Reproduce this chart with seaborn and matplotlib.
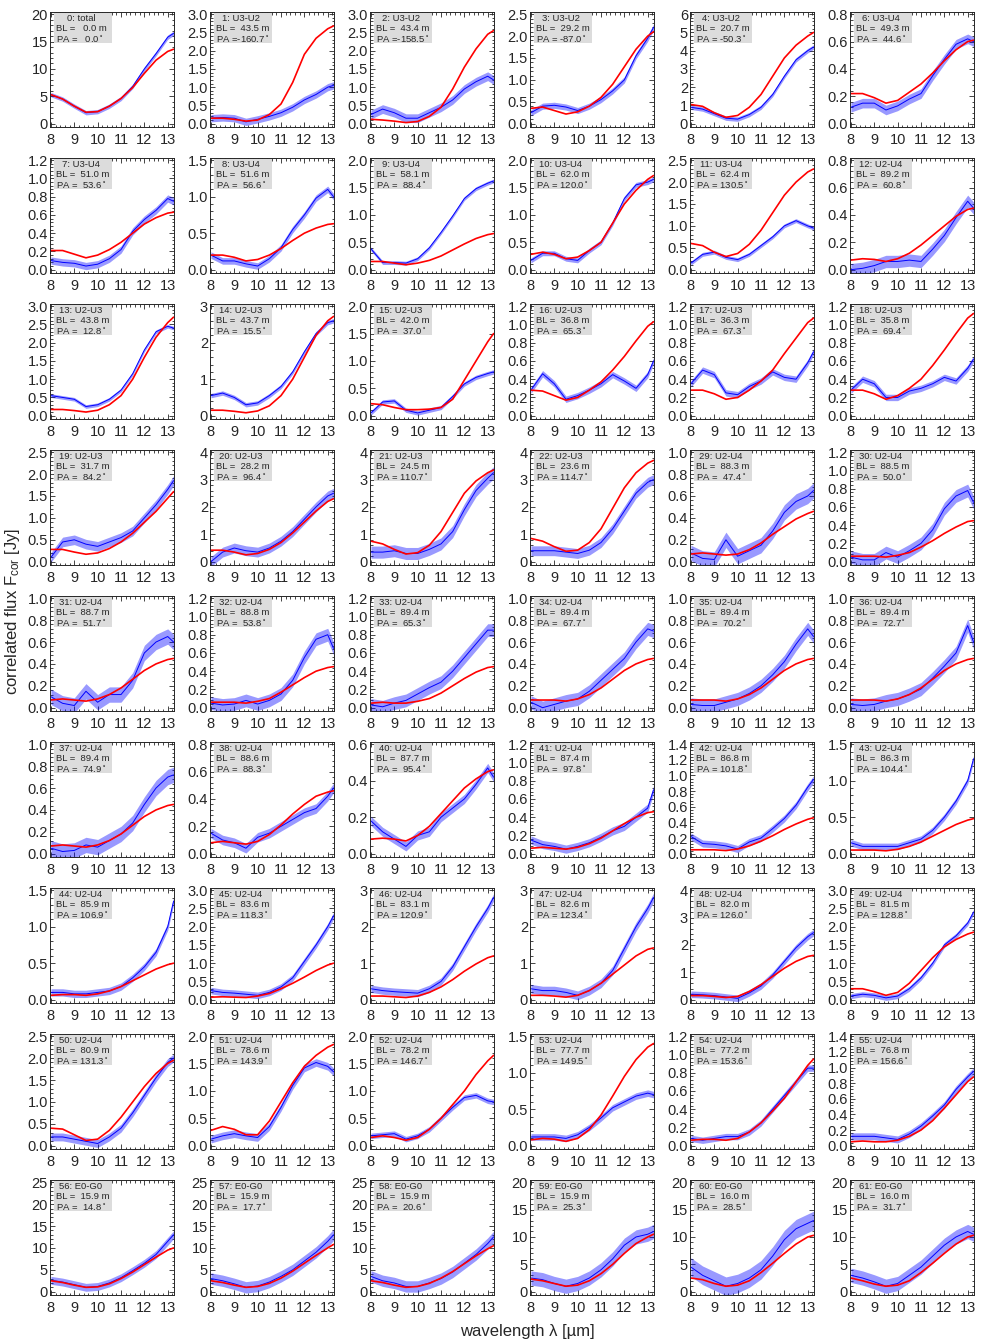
import matplotlib
matplotlib.use("Agg")
import matplotlib.pyplot as plt
from matplotlib.ticker import MultipleLocator, AutoMinorLocator, FormatStrFormatter
from matplotlib.patches import Rectangle
import seaborn as sns

########## data #################################################
wavelength = [8.0, 8.5, 9.0, 9.5, 10.0, 10.5, 11.0, 11.5, 12.0, 12.5, 13.0, 13.25]

panel_id = [0, 1, 2, 3, 4, 6,
            7, 8, 9, 10, 11, 12,
            13, 14, 15, 16, 17, 18,
            19, 20, 21, 22, 29, 30,
            31, 32, 33, 34, 35, 36,
            37, 38, 40, 41, 42, 43,
            44, 45, 46, 47, 48, 49,
            50, 51, 52, 53, 54, 55,
            56, 57, 58, 59, 60, 61]

baseline = (['total'] + ['U3-U2'] * 4 + ['U3-U4'] * 6 + ['U2-U4']
            + ['U2-U3'] * 10 + ['U2-U4'] * 26 + ['E0-G0'] * 6)

bl_m = [0.0, 43.5, 43.4, 29.2, 20.7, 49.3,
        51.0, 51.6, 58.1, 62.0, 62.4, 89.2,
        43.8, 43.7, 42.0, 36.8, 36.3, 35.8,
        31.7, 28.2, 24.5, 23.6, 88.3, 88.5,
        88.7, 88.8, 89.4, 89.4, 89.4, 89.4,
        89.4, 88.6, 87.7, 87.4, 86.8, 86.3,
        85.9, 83.6, 83.1, 82.6, 82.0, 81.5,
        80.9, 78.6, 78.2, 77.7, 77.2, 76.8,
        15.9, 15.9, 15.9, 15.9, 16.0, 16.0]

pa_deg = [0.0, -160.7, -158.5, -87.0, -50.3, 44.6,
          53.6, 56.6, 88.4, 120.0, 130.5, 60.8,
          12.8, 15.5, 37.0, 65.3, 67.3, 69.4,
          84.2, 96.4, 110.7, 114.7, 47.4, 50.0,
          51.7, 53.8, 65.3, 67.7, 70.2, 72.7,
          74.9, 88.3, 95.4, 97.8, 101.8, 104.4,
          106.9, 118.3, 120.9, 123.4, 126.0, 128.8,
          131.3, 143.9, 146.7, 149.5, 153.6, 156.6,
          14.8, 17.7, 20.6, 25.3, 28.5, 31.7]

y_max = [20, 3.0, 3.0, 2.5, 6, 0.8,
         1.2, 1.5, 2.0, 2.0, 2.5, 0.8,
         3.0, 3, 2.0, 1.2, 1.2, 1.2,
         2.5, 4, 4, 4, 1.0, 1.2,
         1.0, 1.2, 1.2, 1.0, 1.0, 1.0,
         1.0, 0.8, 0.6, 1.2, 1.4, 1.5,
         1.5, 3.0, 3, 3, 4, 3.0,
         2.5, 2.0, 2.0, 1.5, 1.2, 1.4,
         25, 25, 25, 20, 20, 20]

y_step = [5, 0.5, 0.5, 0.5, 1, 0.2,
          0.2, 0.5, 0.5, 0.5, 0.5, 0.2,
          0.5, 1, 0.5, 0.2, 0.2, 0.2,
          0.5, 1, 1, 1, 0.2, 0.2,
          0.2, 0.2, 0.2, 0.2, 0.2, 0.2,
          0.2, 0.2, 0.2, 0.2, 0.2, 0.5,
          0.5, 0.5, 1, 1, 1, 0.5,
          0.5, 0.5, 0.5, 0.5, 0.2, 0.2,
          5, 5, 5, 5, 5, 5]

# red: model correlated flux
flux_model = [
    [5.3, 4.5, 3.2, 2.1, 2.2, 3.2, 4.6, 6.6, 9.2, 11.6, 13.2, 13.6],
    [0.15, 0.15, 0.12, 0.07, 0.1, 0.25, 0.54, 1.13, 1.9, 2.34, 2.6, 2.68],
    [0.12, 0.1, 0.07, 0.03, 0.06, 0.2, 0.45, 0.95, 1.55, 2.05, 2.45, 2.55],
    [0.35, 0.38, 0.3, 0.22, 0.27, 0.4, 0.6, 0.9, 1.3, 1.7, 2.0, 2.1],
    [1.05, 0.95, 0.6, 0.35, 0.45, 0.9, 1.6, 2.6, 3.6, 4.3, 4.8, 5.0],
    [0.22, 0.22, 0.19, 0.15, 0.17, 0.23, 0.29, 0.37, 0.46, 0.54, 0.6, 0.61],
    [0.21, 0.21, 0.17, 0.13, 0.16, 0.22, 0.3, 0.4, 0.5, 0.57, 0.62, 0.63],
    [0.2, 0.2, 0.17, 0.12, 0.14, 0.2, 0.29, 0.4, 0.5, 0.57, 0.62, 0.63],
    [0.15, 0.15, 0.12, 0.09, 0.12, 0.17, 0.25, 0.36, 0.47, 0.57, 0.64, 0.66],
    [0.28, 0.32, 0.28, 0.2, 0.23, 0.35, 0.5, 0.85, 1.2, 1.45, 1.65, 1.72],
    [0.6, 0.55, 0.4, 0.3, 0.37, 0.58, 0.9, 1.3, 1.7, 2.0, 2.23, 2.3],
    [0.07, 0.08, 0.075, 0.06, 0.08, 0.12, 0.18, 0.25, 0.32, 0.39, 0.44, 0.45],
    [0.17, 0.17, 0.14, 0.1, 0.15, 0.3, 0.55, 1.0, 1.6, 2.15, 2.55, 2.7],
    [0.15, 0.15, 0.12, 0.08, 0.13, 0.27, 0.55, 1.0, 1.6, 2.2, 2.6, 2.72],
    [0.22, 0.2, 0.15, 0.11, 0.11, 0.12, 0.15, 0.3, 0.65, 1.0, 1.35, 1.5],
    [0.28, 0.27, 0.22, 0.17, 0.2, 0.28, 0.37, 0.5, 0.65, 0.82, 0.98, 1.03],
    [0.28, 0.28, 0.24, 0.18, 0.2, 0.28, 0.38, 0.5, 0.68, 0.85, 1.02, 1.07],
    [0.28, 0.28, 0.24, 0.18, 0.22, 0.3, 0.4, 0.55, 0.72, 0.9, 1.07, 1.12],
    [0.28, 0.28, 0.22, 0.17, 0.2, 0.3, 0.45, 0.65, 0.9, 1.15, 1.45, 1.6],
    [0.42, 0.42, 0.35, 0.25, 0.3, 0.45, 0.7, 1.05, 1.45, 1.85, 2.2, 2.3],
    [0.75, 0.65, 0.45, 0.28, 0.33, 0.6, 1.1, 1.8, 2.5, 2.95, 3.25, 3.35],
    [0.85, 0.75, 0.55, 0.38, 0.42, 0.7, 1.2, 1.95, 2.7, 3.25, 3.6, 3.7],
    [0.07, 0.08, 0.07, 0.06, 0.07, 0.11, 0.17, 0.25, 0.32, 0.39, 0.44, 0.46],
    [0.06, 0.06, 0.06, 0.05, 0.07, 0.1, 0.16, 0.23, 0.31, 0.38, 0.44, 0.45],
    [0.07, 0.08, 0.07, 0.06, 0.08, 0.12, 0.18, 0.26, 0.34, 0.4, 0.44, 0.45],
    [0.06, 0.06, 0.06, 0.05, 0.07, 0.1, 0.17, 0.25, 0.33, 0.4, 0.44, 0.45],
    [0.05, 0.06, 0.05, 0.05, 0.07, 0.1, 0.16, 0.24, 0.32, 0.39, 0.44, 0.45],
    [0.07, 0.07, 0.07, 0.06, 0.08, 0.12, 0.18, 0.26, 0.34, 0.4, 0.44, 0.45],
    [0.07, 0.07, 0.07, 0.06, 0.08, 0.12, 0.18, 0.26, 0.34, 0.4, 0.44, 0.45],
    [0.07, 0.07, 0.07, 0.06, 0.08, 0.12, 0.18, 0.26, 0.34, 0.4, 0.44, 0.45],
    [0.07, 0.08, 0.07, 0.06, 0.08, 0.12, 0.18, 0.26, 0.34, 0.4, 0.44, 0.45],
    [0.08, 0.09, 0.08, 0.07, 0.09, 0.14, 0.21, 0.29, 0.36, 0.42, 0.45, 0.46],
    [0.08, 0.085, 0.08, 0.07, 0.1, 0.15, 0.22, 0.29, 0.36, 0.41, 0.45, 0.46],
    [0.06, 0.07, 0.06, 0.05, 0.07, 0.11, 0.17, 0.25, 0.33, 0.4, 0.45, 0.46],
    [0.05, 0.05, 0.05, 0.04, 0.06, 0.1, 0.16, 0.23, 0.31, 0.38, 0.44, 0.46],
    [0.05, 0.05, 0.05, 0.04, 0.06, 0.1, 0.16, 0.24, 0.32, 0.4, 0.46, 0.48],
    [0.06, 0.07, 0.07, 0.06, 0.08, 0.12, 0.18, 0.26, 0.34, 0.42, 0.48, 0.5],
    [0.07, 0.08, 0.07, 0.06, 0.1, 0.17, 0.3, 0.45, 0.62, 0.8, 0.95, 1.0],
    [0.1, 0.1, 0.08, 0.06, 0.1, 0.2, 0.35, 0.55, 0.78, 0.98, 1.15, 1.2],
    [0.12, 0.12, 0.1, 0.07, 0.12, 0.25, 0.45, 0.7, 0.95, 1.2, 1.38, 1.42],
    [0.15, 0.15, 0.12, 0.08, 0.12, 0.3, 0.55, 0.85, 1.15, 1.4, 1.58, 1.62],
    [0.3, 0.3, 0.22, 0.12, 0.2, 0.45, 0.8, 1.15, 1.45, 1.65, 1.8, 1.85],
    [0.4, 0.38, 0.25, 0.12, 0.15, 0.35, 0.65, 1.0, 1.35, 1.65, 1.88, 1.95],
    [0.28, 0.35, 0.3, 0.2, 0.2, 0.45, 0.8, 1.15, 1.45, 1.65, 1.8, 1.85],
    [0.15, 0.18, 0.15, 0.1, 0.15, 0.3, 0.5, 0.75, 1.0, 1.3, 1.55, 1.65],
    [0.08, 0.1, 0.09, 0.06, 0.1, 0.22, 0.42, 0.68, 0.95, 1.18, 1.35, 1.4],
    [0.06, 0.07, 0.07, 0.06, 0.08, 0.15, 0.25, 0.38, 0.52, 0.7, 0.88, 0.95],
    [0.05, 0.06, 0.05, 0.05, 0.07, 0.12, 0.2, 0.32, 0.48, 0.65, 0.82, 0.88],
    [2.5, 2.1, 1.5, 1.0, 1.1, 1.8, 3.0, 4.5, 6.2, 7.9, 9.5, 10.0],
    [2.5, 2.1, 1.5, 1.0, 1.2, 1.9, 3.1, 4.7, 6.5, 8.3, 10.0, 10.8],
    [2.5, 2.1, 1.5, 1.0, 1.2, 1.9, 3.1, 4.6, 6.4, 8.2, 9.8, 10.5],
    [2.3, 2.0, 1.5, 1.0, 1.2, 2.0, 3.3, 5.0, 7.0, 8.8, 10.0, 10.5],
    [2.5, 2.2, 1.5, 1.0, 1.2, 2.0, 3.5, 5.2, 7.0, 8.7, 10.0, 10.3],
    [2.5, 2.0, 1.4, 1.0, 1.2, 2.0, 3.5, 5.2, 7.0, 8.7, 10.0, 10.3],
]

# blue: measured correlated flux and its error
flux_obs = [
    [5.3, 4.5, 3.2, 2.0, 2.2, 3.2, 4.6, 6.8, 10.0, 12.8, 15.8, 16.5],
    [0.15, 0.17, 0.15, 0.05, 0.12, 0.2, 0.3, 0.45, 0.65, 0.8, 1.0, 1.05],
    [0.25, 0.4, 0.3, 0.15, 0.15, 0.3, 0.45, 0.65, 0.95, 1.15, 1.3, 1.2],
    [0.25, 0.4, 0.42, 0.38, 0.3, 0.4, 0.55, 0.75, 1.0, 1.55, 1.95, 2.2],
    [0.9, 0.8, 0.55, 0.3, 0.25, 0.5, 0.9, 1.6, 2.6, 3.5, 4.0, 4.2],
    [0.12, 0.15, 0.15, 0.1, 0.13, 0.18, 0.22, 0.35, 0.47, 0.58, 0.62, 0.6],
    [0.1, 0.08, 0.07, 0.04, 0.06, 0.12, 0.22, 0.42, 0.55, 0.65, 0.78, 0.75],
    [0.2, 0.12, 0.12, 0.08, 0.05, 0.15, 0.3, 0.55, 0.75, 0.98, 1.1, 1.0],
    [0.38, 0.13, 0.13, 0.12, 0.2, 0.4, 0.68, 0.98, 1.3, 1.48, 1.58, 1.62],
    [0.17, 0.3, 0.3, 0.2, 0.17, 0.35, 0.5, 0.85, 1.3, 1.55, 1.6, 1.65],
    [0.15, 0.35, 0.4, 0.28, 0.23, 0.35, 0.55, 0.75, 1.0, 1.12, 1.0, 0.95],
    [0.0, 0.01, 0.03, 0.06, 0.06, 0.07, 0.06, 0.15, 0.25, 0.38, 0.5, 0.45],
    [0.55, 0.5, 0.45, 0.25, 0.3, 0.45, 0.7, 1.15, 1.8, 2.3, 2.45, 2.4],
    [0.55, 0.62, 0.5, 0.3, 0.35, 0.55, 0.8, 1.2, 1.75, 2.25, 2.55, 2.6],
    [0.05, 0.25, 0.27, 0.1, 0.05, 0.1, 0.15, 0.35, 0.58, 0.7, 0.77, 0.8],
    [0.28, 0.46, 0.35, 0.18, 0.22, 0.28, 0.35, 0.45, 0.38, 0.3, 0.45, 0.6],
    [0.35, 0.5, 0.45, 0.25, 0.23, 0.32, 0.38, 0.48, 0.42, 0.4, 0.58, 0.7],
    [0.28, 0.4, 0.35, 0.2, 0.2, 0.27, 0.3, 0.35, 0.42, 0.38, 0.52, 0.62],
    [0.1, 0.45, 0.5, 0.4, 0.35, 0.45, 0.55, 0.7, 1.0, 1.3, 1.65, 1.85],
    [0.0, 0.35, 0.5, 0.4, 0.35, 0.5, 0.75, 1.1, 1.55, 2.0, 2.4, 2.5],
    [0.35, 0.35, 0.4, 0.3, 0.3, 0.45, 0.65, 1.1, 1.9, 2.6, 3.05, 3.25],
    [0.4, 0.4, 0.4, 0.35, 0.3, 0.42, 0.7, 1.2, 1.85, 2.5, 2.9, 3.0],
    [0.08, 0.03, 0.02, 0.2, 0.05, 0.1, 0.15, 0.28, 0.45, 0.55, 0.6, 0.65],
    [0.05, 0.02, 0.02, 0.1, 0.05, 0.12, 0.2, 0.35, 0.58, 0.72, 0.78, 0.65],
    [0.1, 0.04, 0.02, 0.15, 0.05, 0.12, 0.12, 0.25, 0.5, 0.6, 0.65, 0.6],
    [0.05, 0.03, 0.04, 0.08, 0.04, 0.08, 0.15, 0.3, 0.55, 0.75, 0.8, 0.65],
    [0.03, 0.01, 0.05, 0.08, 0.15, 0.22, 0.28, 0.4, 0.55, 0.7, 0.85, 0.85],
    [0.05, 0.0, 0.03, 0.06, 0.08, 0.15, 0.25, 0.35, 0.45, 0.6, 0.72, 0.7],
    [0.03, 0.02, 0.02, 0.05, 0.08, 0.13, 0.2, 0.3, 0.42, 0.58, 0.72, 0.65],
    [0.03, 0.02, 0.03, 0.06, 0.08, 0.12, 0.17, 0.27, 0.38, 0.5, 0.75, 0.6],
    [0.05, 0.02, 0.03, 0.08, 0.06, 0.12, 0.18, 0.28, 0.45, 0.6, 0.7, 0.72],
    [0.15, 0.1, 0.08, 0.04, 0.12, 0.15, 0.2, 0.25, 0.3, 0.33, 0.42, 0.48],
    [0.18, 0.12, 0.08, 0.04, 0.1, 0.12, 0.2, 0.25, 0.3, 0.38, 0.47, 0.42],
    [0.15, 0.1, 0.08, 0.05, 0.08, 0.12, 0.18, 0.25, 0.3, 0.4, 0.5, 0.7],
    [0.22, 0.13, 0.12, 0.1, 0.06, 0.15, 0.2, 0.32, 0.45, 0.62, 0.85, 0.95],
    [0.15, 0.1, 0.1, 0.1, 0.1, 0.15, 0.2, 0.32, 0.5, 0.72, 1.0, 1.3],
    [0.1, 0.1, 0.08, 0.08, 0.1, 0.12, 0.18, 0.3, 0.45, 0.65, 1.0, 1.35],
    [0.25, 0.2, 0.18, 0.15, 0.12, 0.2, 0.35, 0.6, 1.05, 1.5, 2.0, 2.3],
    [0.3, 0.25, 0.22, 0.2, 0.18, 0.3, 0.5, 0.9, 1.45, 2.0, 2.5, 2.8],
    [0.3, 0.25, 0.25, 0.2, 0.12, 0.25, 0.45, 0.8, 1.4, 2.0, 2.5, 2.8],
    [0.2, 0.18, 0.15, 0.1, 0.05, 0.25, 0.5, 0.9, 1.4, 1.9, 2.3, 2.45],
    [0.1, 0.15, 0.12, 0.05, 0.1, 0.3, 0.6, 1.0, 1.5, 1.75, 2.1, 2.4],
    [0.2, 0.2, 0.15, 0.1, 0.05, 0.2, 0.4, 0.75, 1.15, 1.55, 1.9, 2.0],
    [0.12, 0.18, 0.22, 0.18, 0.15, 0.35, 0.7, 1.1, 1.42, 1.52, 1.45, 1.35],
    [0.18, 0.2, 0.22, 0.12, 0.18, 0.3, 0.5, 0.7, 0.88, 0.92, 0.82, 0.8],
    [0.12, 0.12, 0.12, 0.1, 0.15, 0.25, 0.38, 0.52, 0.6, 0.68, 0.72, 0.7],
    [0.08, 0.06, 0.08, 0.1, 0.1, 0.15, 0.25, 0.4, 0.55, 0.7, 0.85, 0.85],
    [0.12, 0.12, 0.12, 0.1, 0.08, 0.15, 0.25, 0.38, 0.52, 0.72, 0.88, 0.95],
    [2.6, 2.2, 1.6, 1.0, 1.2, 2.0, 3.2, 4.8, 6.5, 8.5, 11.5, 13.0],
    [3.0, 2.5, 1.8, 1.0, 1.3, 2.2, 3.5, 5.0, 7.0, 9.0, 11.5, 13.0],
    [3.5, 2.5, 2.0, 1.2, 1.2, 2.0, 3.0, 4.5, 6.5, 8.5, 11.0, 12.5],
    [2.5, 2.2, 1.5, 1.0, 1.5, 2.5, 4.0, 6.0, 8.5, 10.0, 10.5, 11.0],
    [4.5, 3.0, 2.0, 1.0, 1.5, 2.5, 4.0, 6.5, 9.5, 11.5, 12.5, 13.0],
    [3.0, 2.5, 1.8, 1.0, 1.5, 3.0, 4.5, 6.5, 8.5, 10.0, 11.0, 10.5],
]

flux_err = [0.4, 0.1, 0.12, 0.07, 0.12, 0.035,
            0.04, 0.045, 0.035, 0.045, 0.045, 0.045,
            0.05, 0.06, 0.04, 0.035, 0.035, 0.035,
            0.11, 0.18, 0.22, 0.18, 0.07, 0.07,
            0.07, 0.07, 0.07, 0.06, 0.06, 0.06,
            0.07, 0.035, 0.025, 0.045, 0.045, 0.045,
            0.05, 0.09, 0.1, 0.12, 0.12, 0.07,
            0.09, 0.07, 0.05, 0.045, 0.035, 0.045,
            0.9, 1.3, 1.3, 1.3, 1.7, 1.3]

########## plotting #############################
sns.set_style("ticks")
plt.rcParams['font.family'] = ['Liberation Sans', 'DejaVu Sans']
plt.rcParams['mathtext.default'] = 'regular'

fig, axes = plt.subplots(9, 6, figsize=(9.81, 13.44), dpi=100)
fig.subplots_adjust(left=50/981, right=974/981, top=1-12/1344, bottom=1-1295/1344,
                    wspace=0.29, hspace=0.27)

for i, ax in enumerate(axes.flat):
    lo = [v - flux_err[i] for v in flux_obs[i]]
    hi = [v + flux_err[i] for v in flux_obs[i]]
    ax.fill_between(wavelength, lo, hi, color='#0000ff', alpha=0.4, lw=0)
    sns.lineplot(x=wavelength, y=flux_obs[i], ax=ax, color='#0000ff', lw=0.7)
    sns.lineplot(x=wavelength, y=flux_model[i], ax=ax, color='#ff0000', lw=1.2)

    ax.set_xlim(7.96, 13.27)
    ax.set_ylim(-0.03*y_max[i], 1.02*y_max[i])
    ax.xaxis.set_major_locator(MultipleLocator(1))
    ax.xaxis.set_minor_locator(AutoMinorLocator(5))
    ax.yaxis.set_major_locator(MultipleLocator(y_step[i]))
    ax.yaxis.set_minor_locator(AutoMinorLocator(5))
    if y_step[i] >= 1:
        ax.yaxis.set_major_formatter(FormatStrFormatter('%d'))
    else:
        ax.yaxis.set_major_formatter(FormatStrFormatter('%.1f'))
    ax.tick_params(which='both', direction='in', top=True, right=True, width=0.6)
    ax.tick_params(which='major', length=3.5, labelsize=10.5)
    ax.tick_params(which='minor', length=1.8)
    ax.tick_params(axis='x', pad=4)
    ax.tick_params(axis='y', pad=1.5)
    for s in ax.spines.values():
        s.set_linewidth(0.7)
    ax.set_xlabel('')
    ax.set_ylabel('')

    ax.add_patch(Rectangle((0.032, 0.73), 0.47, 0.26, transform=ax.transAxes,
                           facecolor='#dcdcdc', edgecolor='none', zorder=5))
    ax.text(0.25, 0.945, '%d: %s' % (panel_id[i], baseline[i]), transform=ax.transAxes,
            ha='center', va='center', fontsize=6.8, zorder=6)
    ax.text(0.05, 0.855, 'BL =%6.1f m' % bl_m[i], transform=ax.transAxes,
            ha='left', va='center', fontsize=6.8, zorder=6)
    ax.text(0.05, 0.772, 'PA =%6.1f$^\\circ$' % pa_deg[i], transform=ax.transAxes,
            ha='left', va='center', fontsize=6.8, zorder=6)

fig.text(0.013, 0.545, 'correlated flux F$_{cor}$ [Jy]', rotation=90,
         ha='center', va='center', fontsize=12)
fig.text(0.538, 0.0095, 'wavelength λ [µm]', ha='center', va='center', fontsize=12)

fig.savefig('out.png', dpi=100)
